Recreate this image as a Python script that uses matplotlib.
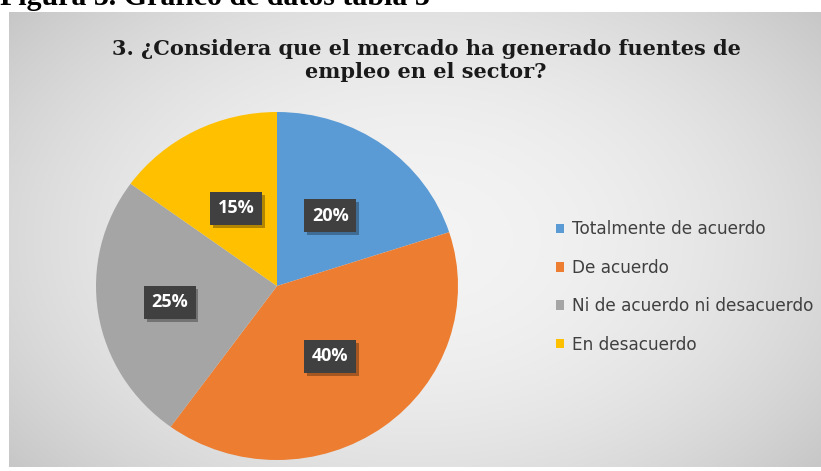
import numpy as np
import matplotlib
matplotlib.use("Agg")
import matplotlib.pyplot as plt
import matplotlib.patheffects as pe

categories = ["Totalmente de acuerdo", "De acuerdo", "Ni de acuerdo ni desacuerdo", "En desacuerdo"]
values = [20, 40, 25, 15]
colors = ["#5B9BD5", "#ED7D31", "#A5A5A5", "#FFC000"]
title = "3. ¿Considera que el mercado ha generado fuentes de\nempleo en el sector?"
caption = "Figura 3. Gráfico de datos tabla 3"

W, H = 821, 471
fig = plt.figure(figsize=(W / 100, H / 100), dpi=100)
fig.patch.set_facecolor("white")

# background chart area with radial gradient
bx0, by0, bx1, by1 = 9, 12, 821, 467
bg = fig.add_axes([bx0 / W, 1 - by1 / H, (bx1 - bx0) / W, (by1 - by0) / H])
yy, xx = np.mgrid[0:1:300j, 0:1:500j]
r = np.sqrt(((xx - 0.5) / 0.62) ** 2 + ((yy - 0.5) / 0.75) ** 2)
shade = 0.955 - 0.16 * np.clip(r, 0, 1.2) ** 2
bg.imshow(np.dstack([shade, shade, shade]), extent=[0, 1, 0, 1], aspect="auto", origin="lower")
bg.set_axis_off()

# caption at very top, mostly clipped by the figure edge (as in the reference)
fig.text(0.0, 1 - 5 / H, caption, family="Liberation Serif", weight="bold",
         fontsize=21.5, va="baseline", ha="left", color="black")

# title
fig.text(426 / W, 1 - 78 / H, title, family="DejaVu Serif", weight="bold",
         fontsize=15, ha="center", va="baseline", color="#1a1a1a", linespacing=1.2,
         multialignment="center")

# pie
cx, cy, rx, ry = 277, 286, 181, 174
ax = fig.add_axes([(cx - rx) / W, 1 - (cy + ry) / H, 2 * rx / W, 2 * ry / H])
wedges, texts, autotexts = ax.pie(
    values, colors=colors, startangle=90, counterclock=False, radius=1,
    autopct="%1.0f%%", pctdistance=0.5,
    wedgeprops=dict(edgecolor="none"),
    textprops=dict(color="white", fontsize=13, weight="bold", family="Open Sans"))
for t in autotexts:
    t.set_bbox(dict(boxstyle="square,pad=0.42", facecolor="#404040", edgecolor="none"))
    t.get_bbox_patch().set_path_effects([
        pe.SimplePatchShadow(offset=(2, -2), shadow_rgbFace="black", alpha=0.3),
        pe.Normal()])
# the grey slice label sits further out
px, py = autotexts[2].get_position()
autotexts[2].set_position((px * 1.2, py * 1.2))
ax.set_aspect("auto")
ax.set_xlim(-1, 1)
ax.set_ylim(-1, 1)
ax.set_axis_off()

# legend
leg = fig.legend(wedges, categories, loc="center left",
                 bbox_to_anchor=(556 / W, 1 - 287 / H), frameon=False, borderpad=0,
                 borderaxespad=0, handlelength=0.5, handleheight=0.5, handletextpad=0.45,
                 labelspacing=1.2, prop=dict(family="DejaVu Sans", size=12.2))
for t in leg.get_texts():
    t.set_color("#404040")

fig.savefig("out.png", dpi=100)
